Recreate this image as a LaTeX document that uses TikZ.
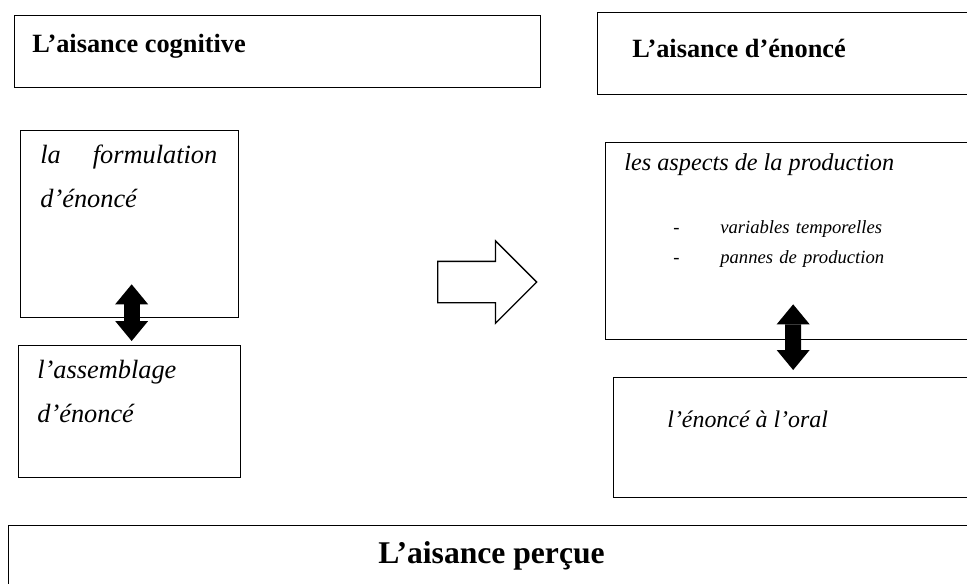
\documentclass[tikz,border=0pt]{standalone}
\usepackage{fontspec}
\setmainfont{Liberation Serif}
\usetikzlibrary{arrows.meta, positioning, shapes.arrows}
\newdimen\pxu \pxu=0.02cm
\tikzset{
  boite/.style={draw=black, line width=0.75pt, rectangle, inner sep=0pt, anchor=north west},
  titre/.style={font=\fontsize{15}{18}\selectfont\bfseries, inner sep=0pt, anchor=base west},
  idee/.style={font=\fontsize{15}{25.6}\selectfont\itshape, inner sep=0pt, anchor=base west, align=left},
  liste/.style={font=\fontsize{10.6}{17.6}\selectfont\itshape, inner sep=0pt, anchor=base west, align=left},
  lien/.style={line width=0.32cm, {Triangle[length=0.4cm, width=0.66cm, line width=0pt]}-{Triangle[length=0.4cm, width=0.66cm, line width=0pt]}},
  fleche/.style={single arrow, draw=black, line width=0.75pt, inner xsep=0pt, inner ysep=0.4cm, minimum height=99\pxu, single arrow head extend=0.41cm, anchor=west},
}

\begin{document}
\begin{tikzpicture}[x=0.02cm, y=-0.02cm]
\useasboundingbox (0,0) rectangle (967,583);
\clip (0,0) rectangle (967,583);

% les cadres
\node[boite, minimum width=526\pxu, minimum height=72\pxu] (cog) at (14,15) {};
\node[boite, minimum width=383\pxu, minimum height=82\pxu] (enon) at (597,12) {};
\node[boite, minimum width=218\pxu, minimum height=187\pxu] (form) at (20,130) {};
\node[boite, minimum width=222\pxu, minimum height=132\pxu] (assem) at (18,345) {};
\node[boite, minimum width=375\pxu, minimum height=197\pxu] (aspects) at (605,142) {};
\node[boite, minimum width=367\pxu, minimum height=120\pxu] (oral) at (613,377) {};
\node[boite, minimum width=972\pxu, minimum height=80\pxu] (percue) at (8,525) {};

% les textes
\node[titre] (cogtxt) at (32,52) {L'aisance cognitive};
\node[titre] (enontxt) at (632,57) {L'aisance d'énoncé};
\node[titre, font=\fontsize{18}{22}\selectfont\bfseries] (perctxt) at (378,563) {L'aisance perçue};
\node[idee, text width=177\pxu] (formtxt) at (40,163) {la\hfill formulation\\d'énoncé};
\node[idee, text width=180\pxu] (assemtxt) at (37,378) {l'assemblage\\d'énoncé};
\node[idee, font=\fontsize{13.8}{17}\selectfont\itshape] (asptxt) at (624,170) {les aspects de la production};
\node[liste, text width=220\pxu] (listetxt) at (673,233) {\makebox[47\pxu][l]{-}variables temporelles\\\makebox[47\pxu][l]{-}pannes de production};
\node[idee, font=\fontsize{13.6}{16}\selectfont\itshape] (oraltxt) at (667,427) {l'énoncé à l'oral};

% les liens
\draw[lien] ([xshift=0.04cm, yshift=0.08cm]assem.north) -- ([xshift=0.04cm, yshift=0.68cm]form.south);
\draw[lien] ([xshift=-0.08cm, yshift=0.14cm]oral.north) -- ([yshift=0.72cm]aspects.south);
\node[fleche] (bascule) at (437,282) {};
\end{tikzpicture}
\end{document}
